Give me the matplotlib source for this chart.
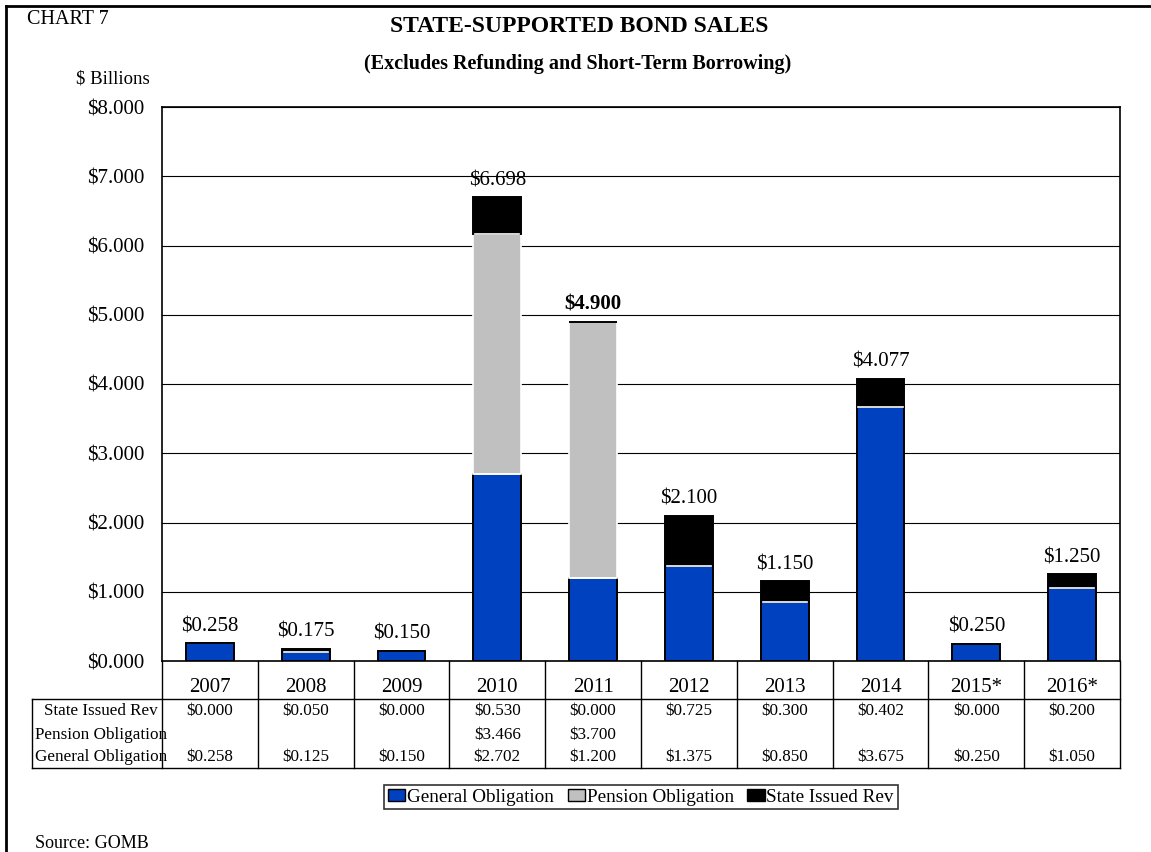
import matplotlib
matplotlib.use("Agg")
import matplotlib.pyplot as plt
from matplotlib.patches import Patch
from matplotlib.lines import Line2D
from matplotlib.transforms import blended_transform_factory
import numpy as np

plt.rcParams['font.family'] = ['Liberation Serif', 'DejaVu Serif']

years = ["2007", "2008", "2009", "2010", "2011", "2012", "2013", "2014", "2015*", "2016*"]
general_obligation = [0.258, 0.125, 0.150, 2.702, 1.200, 1.375, 0.850, 3.675, 0.250, 1.050]
pension_obligation = [0.0, 0.0, 0.0, 3.466, 3.700, 0.0, 0.0, 0.0, 0.0, 0.0]
state_issued_rev = [0.000, 0.050, 0.000, 0.530, 0.000, 0.725, 0.300, 0.402, 0.000, 0.200]
pension_shown = [False, False, False, True, True, False, False, False, False, False]
totals = [0.258, 0.175, 0.150, 6.698, 4.900, 2.100, 1.150, 4.077, 0.250, 1.250]
bold_total = [False, False, False, False, True, False, False, False, False, False]
y_ticks = [0, 1, 2, 3, 4, 5, 6, 7, 8]

C_GO = "#0041BF"
C_PO = "#C0C0C0"
C_SR = "#000000"

W, H = 1151, 852
fig = plt.figure(figsize=(W / 100, H / 100), dpi=100)

def fx(px):
    return px / W

def fy(py):
    return 1 - py / H

AX_L, AX_R, AX_T, AX_B = 162, 1120, 107, 661
ax = fig.add_axes([fx(AX_L), fy(AX_B), fx(AX_R) - fx(AX_L), fy(AX_T) - fy(AX_B)])
x = np.arange(len(years))
bw = 0.5

go = np.array(general_obligation)
po = np.array(pension_obligation)
sr = np.array(state_issued_rev)

ax.bar(x, go, bw, color=C_GO, edgecolor="black", linewidth=1.4, zorder=3)
ax.bar(x, po, bw, bottom=go, color=C_PO, edgecolor="white", linewidth=1.2, zorder=3)
ax.bar(x, sr, bw, bottom=go + po, color=C_SR, edgecolor="black", linewidth=1.4, zorder=3)
# white separator between stacked segments
for xi, g, p, s in zip(x, go, po, sr):
    if p > 0 or s > 0:
        ax.plot([xi - bw / 2 + 0.02, xi + bw / 2 - 0.02], [g, g], color="white", lw=1.2, zorder=4)
    if p > 0 and s > 0:
        ax.plot([xi - bw / 2 + 0.02, xi + bw / 2 - 0.02], [g + p, g + p], color="white", lw=1.2, zorder=4)

for xi, tot, b in zip(x, totals, bold_total):
    ax.text(xi, tot + 0.1, f"${tot:.3f}", ha="center", va="bottom",
            fontsize=15, fontweight="bold" if b else "normal", zorder=5)

ax.set_xlim(-0.5, len(years) - 0.5)
ax.set_ylim(0, 8)
ax.set_yticks(y_ticks)
ax.set_yticklabels([f"${v:.3f}" for v in y_ticks], fontsize=15)
ax.tick_params(axis="y", length=0, pad=13)
ax.set_xticks([])
ax.yaxis.grid(True, color="black", linewidth=0.8, zorder=0)
ax.set_axisbelow(True)
for s in ax.spines.values():
    s.set_color("black")
    s.set_linewidth(1.2)

# Data table below the plot
tr = blended_transform_factory(ax.transData, fig.transFigure)
y_top, y_mid, y_bot = fy(661), fy(699), fy(768)

lines = []
for i in range(len(years) + 1):
    xb = i - 0.5
    lines.append(Line2D([xb, xb], [y_top, y_bot], transform=tr, color="black", lw=1.0))
lines.append(Line2D([fx(32), fx(AX_R)], [y_mid, y_mid], transform=fig.transFigure, color="black", lw=1.0))
lines.append(Line2D([fx(32), fx(AX_R)], [y_bot, y_bot], transform=fig.transFigure, color="black", lw=1.0))
lines.append(Line2D([fx(32), fx(32)], [y_mid, y_bot], transform=fig.transFigure, color="black", lw=1.0))
for ln in lines:
    fig.add_artist(ln)

for xi, yr in zip(x, years):
    fig.text(xi, fy(688), yr, transform=tr, ha="center", va="center", fontsize=15)

row_labels = ["State Issued Rev", "Pension Obligation", "General Obligation"]
row_y = [fy(711), fy(735), fy(757)]
row_vals = [
    [f"${v:.3f}" for v in state_issued_rev],
    [f"${v:.3f}" if s else "" for v, s in zip(pension_obligation, pension_shown)],
    [f"${v:.3f}" for v in general_obligation],
]
for lab, yy, vals in zip(row_labels, row_y, row_vals):
    fig.text(fx(101), yy, lab, ha="center", va="center", fontsize=12.3)
    for xi, v in zip(x, vals):
        fig.text(xi, yy, v, transform=tr, ha="center", va="center", fontsize=12.3)

# Titles and notes
fig.text(fx(27), fy(19), "CHART 7", ha="left", va="center", fontsize=14.5)
fig.text(fx(579), fy(27), "STATE-SUPPORTED BOND SALES", ha="center", va="center",
         fontsize=17, fontweight="bold")
fig.text(fx(578), fy(64), "(Excludes Refunding and Short-Term Borrowing)", ha="center",
         va="center", fontsize=14.5, fontweight="bold")
fig.text(fx(113), fy(79), "$ Billions", ha="center", va="center", fontsize=13.5)
fig.text(fx(35), fy(843), "Source: GOMB", ha="left", va="center", fontsize=13)

handles = [
    Patch(facecolor=C_GO, edgecolor="black", label="General Obligation"),
    Patch(facecolor=C_PO, edgecolor="black", label="Pension Obligation"),
    Patch(facecolor=C_SR, edgecolor="black", label="State Issued Rev"),
]
leg = fig.legend(handles=handles, loc="center", bbox_to_anchor=(fx(641), fy(797)),
                 ncol=3, fontsize=13.8, handlelength=0.9, handleheight=0.6,
                 handletextpad=0.1, columnspacing=0.7, frameon=True, fancybox=False,
                 borderpad=0.2, borderaxespad=0)
leg.get_frame().set_edgecolor("black")
leg.get_frame().set_linewidth(1.2)

# Outer frame: top and left edges
fig.add_artist(Line2D([fx(6), 1], [fy(6), fy(6)], transform=fig.transFigure, color="black", lw=2))
fig.add_artist(Line2D([fx(6), fx(6)], [fy(6), 0], transform=fig.transFigure, color="black", lw=2))

fig.savefig("out.png", dpi=100)
